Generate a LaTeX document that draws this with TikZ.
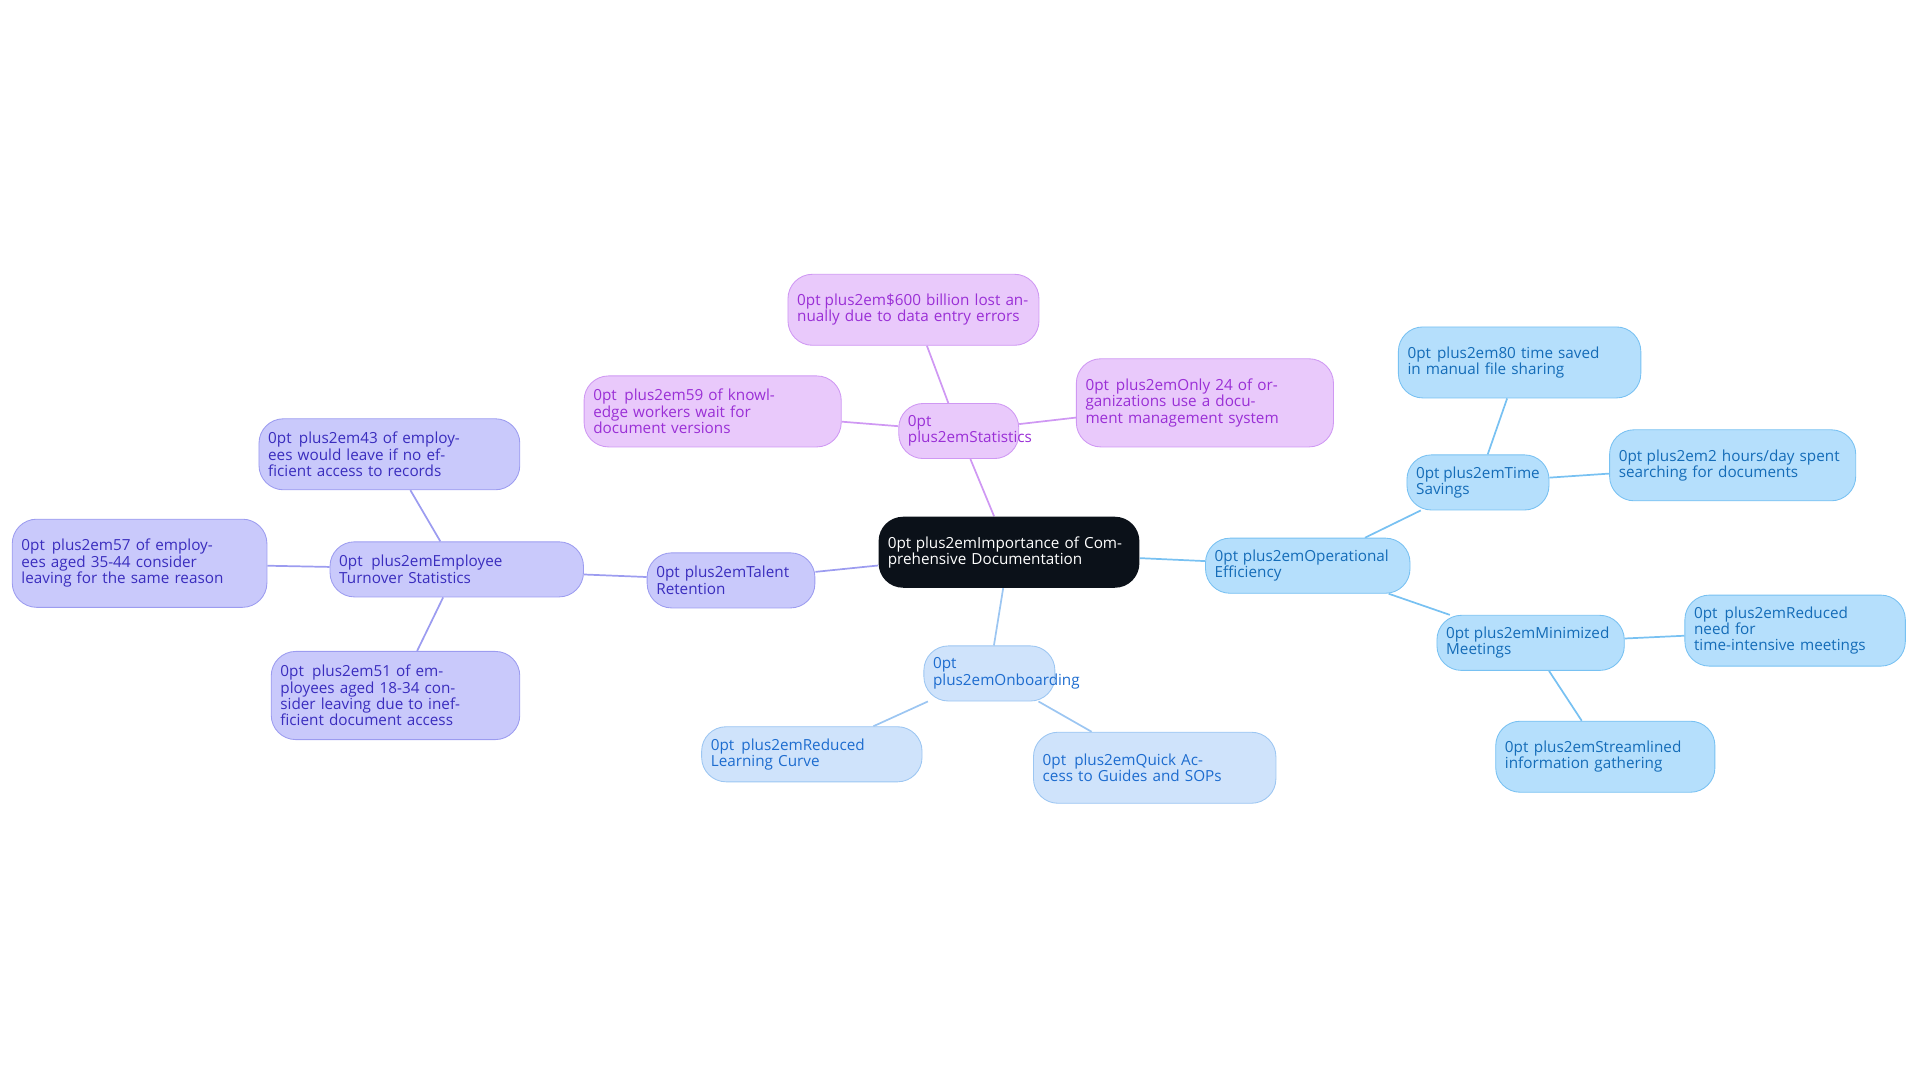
\documentclass[tikz,border=0pt]{standalone}
\usepackage{fontspec}
\setmainfont{Open Sans}
\usetikzlibrary{backgrounds}
\definecolor{purfill}{HTML}{E9C9FB}\definecolor{purline}{HTML}{CF98F3}\definecolor{purtext}{HTML}{9A2FD6}
\definecolor{indfill}{HTML}{C9C9FB}\definecolor{indline}{HTML}{9C9CF0}\definecolor{indtext}{HTML}{3A2DBE}
\definecolor{onbfill}{HTML}{CFE3FB}\definecolor{onbline}{HTML}{9CC6F2}\definecolor{onbtext}{HTML}{1D6CCF}
\definecolor{opefill}{HTML}{B5DFFC}\definecolor{opeline}{HTML}{78C1F2}\definecolor{opetext}{HTML}{146CB8}
\definecolor{rootfill}{HTML}{0B1119}
\tikzset{
  box/.style={rounded corners=0.4cm, align=center, inner sep=0pt,
    font=\fontsize{7.1}{7.6}\selectfont\hyphenpenalty=10000},
  pur/.style={box, fill=purfill, draw=purline, text=purtext},
  ind/.style={box, fill=indfill, draw=indline, text=indtext},
  onb/.style={box, fill=onbfill, draw=onbline, text=onbtext},
  ope/.style={box, fill=opefill, draw=opeline, text=opetext},
  sz/.style n args={2}{minimum width=#1*0.02cm, minimum height=#2*0.02cm, text width=#1*0.02cm-0.3cm},
  link/.style={line width=0.8pt}
}
\begin{document}
\begin{tikzpicture}[x=0.02cm,y=-0.02cm]
  \useasboundingbox (0,0) rectangle (1568,884);
  \node[box, fill=rootfill, text=white, sz={213}{58}] (root) at (824,451) {Importance of Comprehensive Documentation};
  % statistics
  \node[pur, sz={98}{45}] (stat) at (783,352) {Statistics};
  \node[pur, sz={205}{58}] (s1) at (746,253) {\$600 billion lost annually due to data entry errors};
  \node[pur, sz={210}{58}] (s2) at (582,336) {59 of knowledge workers wait for document versions};
  \node[pur, sz={210}{72}] (s3) at (984,329) {Only 24 of organizations use a document management system};
  % talent retention
  \node[ind, sz={137}{45}] (tal) at (597,474) {Talent Retention};
  \node[ind, sz={207}{45}] (emp) at (373,465) {Employee Turnover Statistics};
  \node[ind, sz={213}{58}] (e1) at (318,371) {43 of employees would leave if no efficient access to records};
  \node[ind, sz={208}{72}] (e2) at (114,460) {57 of employees aged 35-44 consider leaving for the same reason};
  \node[ind, sz={203}{72}] (e3) at (323,568) {51 of employees aged 18-34 consider leaving due to inefficient document access};
  % onboarding
  \node[onb, sz={107}{45}] (onb) at (808,550) {Onboarding};
  \node[onb, sz={180}{45}] (o1) at (663,616) {Reduced Learning Curve};
  \node[onb, sz={198}{58}] (o2) at (943,627) {Quick Access to Guides and SOPs};
  % operational efficiency
  \node[ope, sz={167}{45}] (ope) at (1068,462) {Operational Efficiency};
  \node[ope, sz={116}{45}] (tim) at (1207,394) {Time Savings};
  \node[ope, sz={198}{58}] (t1) at (1241,296) {80 time saved in manual file sharing};
  \node[ope, sz={201}{58}] (t2) at (1415,380) {2 hours/day spent searching for documents};
  \node[ope, sz={153}{45}] (mee) at (1250,525) {Minimized Meetings};
  \node[ope, sz={180}{58}] (m1) at (1466,515) {Reduced need for\\ time-intensive meetings};
  \node[ope, sz={179}{58}] (m2) at (1311,618) {Streamlined information gathering};
  \begin{pgfonlayer}{background}
    \draw[link, purline] (root) -- (stat) (stat) -- (s1) (stat) -- (s2) (stat) -- (s3);
    \draw[link, indline] (root) -- (tal) (tal) -- (emp) (emp) -- (e1) (emp) -- (e2) (emp) -- (e3);
    \draw[link, onbline] (root) -- (onb) (onb) -- (o1) (onb) -- (o2);
    \draw[link, opeline] (root) -- (ope) (ope) -- (tim) (tim) -- (t1) (tim) -- (t2)
      (ope) -- (mee) (mee) -- (m1) (mee) -- (m2);
  \end{pgfonlayer}
\end{tikzpicture}
\end{document}
